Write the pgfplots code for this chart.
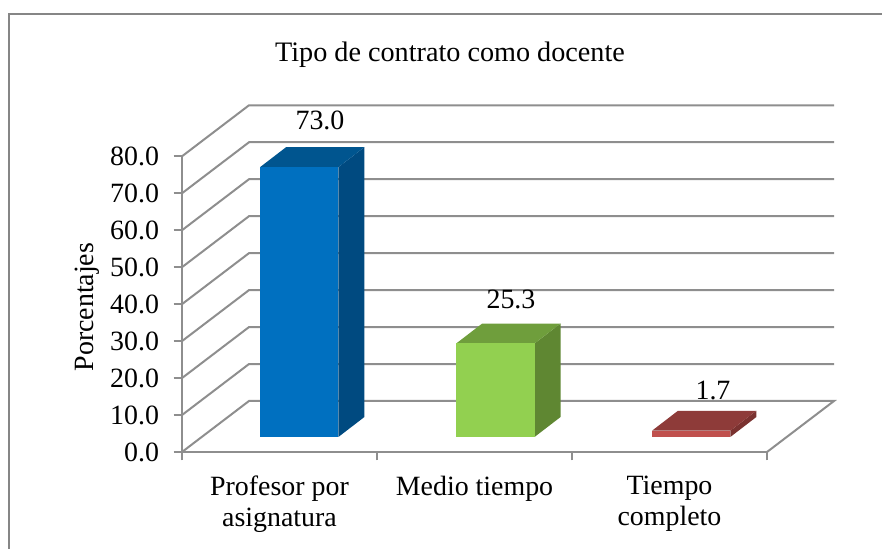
\documentclass[border=0pt]{standalone}
\usepackage{fontspec}
\setmainfont{Liberation Serif}
\usepackage{pgfplots}
\pgfplotsset{compat=1.18}
\definecolor{gridgray}{HTML}{8E8E8E}
\definecolor{framegray}{HTML}{868686}
\definecolor{bluefront}{HTML}{0070C0}
\definecolor{bluetop}{HTML}{00558F}
\definecolor{blueside}{HTML}{004A80}
\definecolor{greenfront}{HTML}{92D050}
\definecolor{greentop}{HTML}{6F9E3C}
\definecolor{greenside}{HTML}{5F8732}
\definecolor{redfront}{HTML}{C0504D}
\definecolor{redtop}{HTML}{8E3B39}
\definecolor{redside}{HTML}{7A3230}
\newcommand{\labelfont}{\fontsize{28}{31}\selectfont}
\begin{document}
\begin{tikzpicture}[x=1bp,y=1bp]
\useasboundingbox (0,0) rectangle (882,549);
% chart frame, open at the bottom and the right
\draw[framegray,line width=2bp] (9,0) -- (9,535) -- (882,535);
\begin{axis}[
  at={(182bp,97bp)},anchor=south west,
  scale only axis,width=585bp,height=295.7bp,
  xmin=0,xmax=3,ymin=0,ymax=80,
  clip=false,
  axis lines=left,
  axis line style={gridgray,line width=2bp,-},
  tick style={gridgray,line width=1.8bp},
  tick align=outside,
  major tick length=8.5bp,
  xtick={0,1,2,3},
  x tick label as interval,
  xticklabels={Profesor por\\asignatura,Medio tiempo,Tiempo\\completo},
  xticklabel style={align=center,font=\labelfont,yshift=-12bp},
  ytick={0,10,...,80},
  yticklabel style={font=\labelfont,xshift=-11bp},
  /pgf/number format/assume math mode=true,
  /pgf/number format/fixed,
  /pgf/number format/fixed zerofill,
  /pgf/number format/precision=1,
  ylabel={Porcentajes},
  ylabel style={font=\labelfont,at={(axis description cs:-0.135,0.49)}},
  every axis plot/.append style={forget plot},
  barplane/.style={xshift=19.7bp,yshift=15bp,draw=none},
]
% side wall and back wall rules at every tick
\addplot[gridgray,line width=2bp] coordinates {(3,0)(3.3436,13.8)(0.3436,13.8)(0,0)};
\addplot[gridgray,line width=2bp] coordinates {(0,10)(0.3436,23.8)(3.3436,23.8)};
\addplot[gridgray,line width=2bp] coordinates {(0,20)(0.3436,33.8)(3.3436,33.8)};
\addplot[gridgray,line width=2bp] coordinates {(0,30)(0.3436,43.8)(3.3436,43.8)};
\addplot[gridgray,line width=2bp] coordinates {(0,40)(0.3436,53.8)(3.3436,53.8)};
\addplot[gridgray,line width=2bp] coordinates {(0,50)(0.3436,63.8)(3.3436,63.8)};
\addplot[gridgray,line width=2bp] coordinates {(0,60)(0.3436,73.8)(3.3436,73.8)};
\addplot[gridgray,line width=2bp] coordinates {(0,70)(0.3436,83.8)(3.3436,83.8)};
\addplot[gridgray,line width=2bp] coordinates {(0,80)(0.3436,93.8)(3.3436,93.8)};
% bars: each one stands on the floor, a little in front of the back wall
\addplot[barplane,fill=blueside] coordinates {(0.7008,0)(0.7008,73)(0.8341,78.4)(0.8341,5.4)} --cycle;
\addplot[barplane,fill=bluetop] coordinates {(0.2992,73)(0.7008,73)(0.8341,78.4)(0.4325,78.4)} --cycle;
\addplot[barplane,ybar,bar width=78.3bp,fill=bluefront] coordinates {(0.5,73)};
\addplot[barplane,fill=greenside] coordinates {(1.7068,0)(1.7068,25.3)(1.8401,30.7)(1.8401,5.4)} --cycle;
\addplot[barplane,fill=greentop] coordinates {(1.3052,25.3)(1.7068,25.3)(1.8401,30.7)(1.4385,30.7)} --cycle;
\addplot[barplane,ybar,bar width=78.3bp,fill=greenfront] coordinates {(1.506,25.3)};
\addplot[barplane,fill=redside] coordinates {(2.7108,0)(2.7108,1.7)(2.8441,7.1)(2.8441,5.4)} --cycle;
\addplot[barplane,fill=redtop] coordinates {(2.3092,1.7)(2.7108,1.7)(2.8441,7.1)(2.4425,7.1)} --cycle;
\addplot[barplane,ybar,bar width=78.3bp,fill=redfront] coordinates {(2.51,1.7)};
\end{axis}
\node[font=\fontsize{28.3}{32}\selectfont] at (450,494) {Tipo de contrato como docente};
\node[font=\labelfont] at (320,429) {73.0};
\node[font=\labelfont] at (511,250) {25.3};
\node[font=\labelfont] at (713,159) {1.7};
\end{tikzpicture}
\end{document}
